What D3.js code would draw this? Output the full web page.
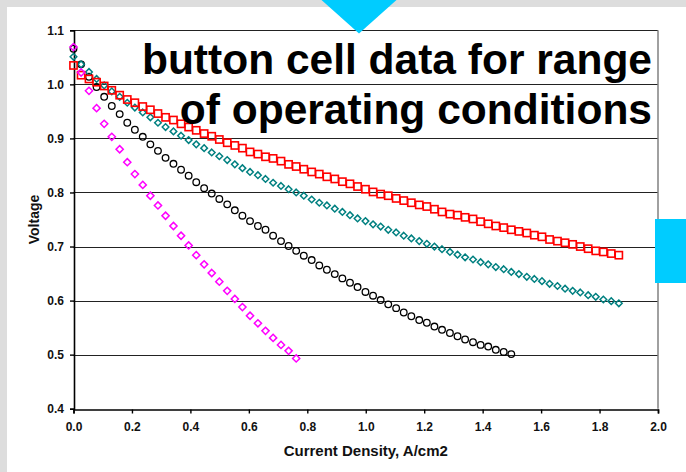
<!DOCTYPE html>
<html>
<head>
<meta charset="utf-8">
<script src="https://cdn.jsdelivr.net/npm/d3@7"></script>
<style>
  html, body { margin: 0; padding: 0; background: #dddddd; }
  svg { display: block; }
  text { font-family: "Liberation Sans", Arial, sans-serif; font-weight: bold; }
</style>
</head>
<body>
<svg id="chart" width="686" height="472"></svg>
<script>
// Current density steps shared by all polarization curves (A/cm2)
const currentDensity = [
  0.000, 0.026, 0.053, 0.079, 0.105, 0.131, 0.158, 0.184, 0.210, 0.237,
  0.263, 0.289, 0.315, 0.342, 0.368, 0.394, 0.420, 0.447, 0.473, 0.499,
  0.526, 0.552, 0.578, 0.604, 0.631, 0.657, 0.683, 0.710, 0.736, 0.762,
  0.788, 0.815, 0.841, 0.867, 0.894, 0.920, 0.946, 0.972, 0.999, 1.025,
  1.051, 1.077, 1.104, 1.130, 1.156, 1.183, 1.209, 1.235, 1.261, 1.288,
  1.314, 1.340, 1.367, 1.393, 1.419, 1.445, 1.472, 1.498, 1.524, 1.551,
  1.577, 1.603, 1.629, 1.656, 1.682, 1.708, 1.734, 1.761, 1.787, 1.813,
  1.840, 1.866
];

// Cell voltage (V) for each operating condition
const voltageRed = [
  1.035, 1.017, 1.010, 1.004, 0.997, 0.989, 0.980, 0.972, 0.966, 0.959,
  0.953, 0.946, 0.939, 0.934, 0.927, 0.921, 0.915, 0.909, 0.904, 0.898,
  0.892, 0.887, 0.882, 0.875, 0.871, 0.866, 0.863, 0.858, 0.852, 0.848,
  0.843, 0.838, 0.834, 0.829, 0.825, 0.820, 0.816, 0.811, 0.806, 0.801,
  0.797, 0.794, 0.789, 0.785, 0.781, 0.777, 0.774, 0.769, 0.764, 0.760,
  0.758, 0.754, 0.751, 0.746, 0.742, 0.738, 0.735, 0.731, 0.728, 0.725,
  0.721, 0.718, 0.713, 0.710, 0.707, 0.704, 0.700, 0.696, 0.692, 0.690,
  0.687, 0.684
];
const voltageTeal = [
  1.051, 1.037, 1.023, 1.010, 0.998, 0.987, 0.977, 0.966, 0.957, 0.948,
  0.939, 0.929, 0.921, 0.913, 0.905, 0.897, 0.889, 0.882, 0.874, 0.867,
  0.860, 0.852, 0.845, 0.838, 0.832, 0.825, 0.818, 0.812, 0.806, 0.800,
  0.794, 0.787, 0.781, 0.776, 0.770, 0.764, 0.758, 0.752, 0.747, 0.741,
  0.737, 0.731, 0.726, 0.720, 0.715, 0.710, 0.705, 0.700, 0.695, 0.690,
  0.685, 0.680, 0.676, 0.671, 0.667, 0.662, 0.658, 0.653, 0.649, 0.644,
  0.640, 0.636, 0.631, 0.627, 0.622, 0.618, 0.615, 0.610, 0.607, 0.602,
  0.599, 0.595
];
const voltageBlack = [
  1.066, 1.037, 1.014, 0.995, 0.977, 0.960, 0.945, 0.929, 0.916, 0.903,
  0.889, 0.877, 0.864, 0.853, 0.842, 0.831, 0.819, 0.808, 0.798, 0.788,
  0.778, 0.767, 0.757, 0.747, 0.738, 0.731, 0.720, 0.710, 0.701, 0.692,
  0.683, 0.675, 0.665, 0.657, 0.649, 0.641, 0.633, 0.625, 0.616, 0.609,
  0.601, 0.593, 0.586, 0.578, 0.571, 0.564, 0.559, 0.552, 0.546, 0.540,
  0.534, 0.528, 0.523, 0.518, 0.515, 0.509, 0.505, 0.501
];
const voltageMagenta = [
  1.069, 1.022, 0.988, 0.956, 0.927, 0.903, 0.880, 0.856, 0.834, 0.814,
  0.794, 0.776, 0.757, 0.738, 0.720, 0.702, 0.684, 0.667, 0.651, 0.635,
  0.618, 0.603, 0.588, 0.572, 0.558, 0.544, 0.531, 0.518, 0.507, 0.493
];

// Axis ticks and text
const xTicks = [0.0, 0.2, 0.4, 0.6, 0.8, 1.0, 1.2, 1.4, 1.6, 1.8, 2.0];
const yTicks = [0.4, 0.5, 0.6, 0.7, 0.8, 0.9, 1.0, 1.1];
const titleLines = ["button cell data for range", "of operating conditions"];
const xAxisTitle = "Current Density, A/cm2";
const yAxisTitle = "Voltage";

const svg = d3.select("#chart");

// page panel
svg.append("rect").attr("x", 7).attr("y", 7).attr("width", 679).attr("height", 465).attr("fill", "#ffffff");

const x = d3.scaleLinear().domain([0, 2]).range([73.5, 658]);
const y = d3.scaleLinear().domain([0.4, 1.1]).range([408.7, 30.3]);

// horizontal gridlines
svg.append("g").selectAll("line")
  .data(yTicks.filter(v => v > 0.4))
  .join("line")
  .attr("x1", x(0)).attr("x2", x(2))
  .attr("y1", d => Math.round(y(d)) + 0.5).attr("y2", d => Math.round(y(d)) + 0.5)
  .attr("stroke", "#222").attr("stroke-width", 1.1);

// right plot border
svg.append("line")
  .attr("x1", x(2)).attr("x2", x(2))
  .attr("y1", y(1.1)).attr("y2", y(0.4))
  .attr("stroke", "#808080").attr("stroke-width", 1.5);

// axes
const xAxis = svg.append("g")
  .attr("transform", `translate(0,${Math.round(y(0.4)) + 0.5})`)
  .call(d3.axisBottom(x).tickValues(xTicks).tickFormat(d3.format(".1f")).tickSize(4).tickPadding(9));
const yAxis = svg.append("g")
  .attr("transform", `translate(${Math.round(x(0)) + 0.5 - 0.5},0)`)
  .call(d3.axisLeft(y).tickValues(yTicks).tickFormat(d3.format(".1f")).tickSize(4).tickPadding(6));

[xAxis, yAxis].forEach(g => {
  g.select(".domain").attr("stroke", "#000").attr("stroke-width", 1.6);
  g.selectAll(".tick line").attr("stroke", "#000").attr("stroke-width", 1.4);
  g.selectAll(".tick text")
    .attr("fill", "#111")
    .style("font-family", '"Liberation Sans", Arial, sans-serif')
    .style("font-weight", "bold")
    .style("font-size", "12px");
});

// series markers
const diamond = s => `M0,${-s}L${s},0L0,${s}L${-s},0Z`;
const plot = svg.append("g");

function drawSeries(values, color, shape) {
  const pts = values.map((v, i) => [currentDensity[i], v]);
  const g = plot.append("g");
  if (shape === "circle") {
    g.selectAll("circle").data(pts).join("circle")
      .attr("cx", d => x(d[0])).attr("cy", d => y(d[1])).attr("r", 3.3)
      .attr("fill", "none").attr("stroke", color).attr("stroke-width", 1.3);
  } else if (shape === "square") {
    g.selectAll("rect").data(pts).join("rect")
      .attr("x", d => x(d[0]) - 3.6).attr("y", d => y(d[1]) - 3.6)
      .attr("width", 7.2).attr("height", 7.2)
      .attr("fill", "none").attr("stroke", color).attr("stroke-width", 1.6);
  } else {
    const s = shape === "diamondSmall" ? 3.3 : 3.6;
    g.selectAll("path").data(pts).join("path")
      .attr("transform", d => `translate(${x(d[0])},${y(d[1])})`)
      .attr("d", diamond(s))
      .attr("fill", "none").attr("stroke", color).attr("stroke-width", 1.5);
  }
}

drawSeries(voltageBlack, "#000000", "circle");
drawSeries(voltageTeal, "#008080", "diamondSmall");
drawSeries(voltageRed, "#ff0000", "square");
drawSeries(voltageMagenta, "#ff00ff", "diamond");

// title
const title = svg.append("text")
  .attr("text-anchor", "end")
  .style("font-size", "42.5px")
  .attr("fill", "#000");
titleLines.forEach((t, i) => {
  title.append("tspan").attr("x", 652).attr("y", 74 + i * 50).text(t);
});

// axis titles
svg.append("text")
  .attr("x", x(1)).attr("y", 456)
  .attr("text-anchor", "middle")
  .style("font-size", "15px")
  .attr("fill", "#111")
  .text(xAxisTitle);
svg.append("text")
  .attr("transform", `translate(39,${(y(0.4) + y(1.1)) / 2}) rotate(-90)`)
  .attr("text-anchor", "middle")
  .style("font-size", "14px")
  .attr("fill", "#111")
  .text(yAxisTitle);

// slide decorations
svg.append("path")
  .attr("d", "M321.5,0L396.5,0L359,33.5Z")
  .attr("fill", "#00ccff");
svg.append("rect")
  .attr("x", 655).attr("y", 219).attr("width", 31).attr("height", 64)
  .attr("fill", "#00ccff");
</script>
</body>
</html>
